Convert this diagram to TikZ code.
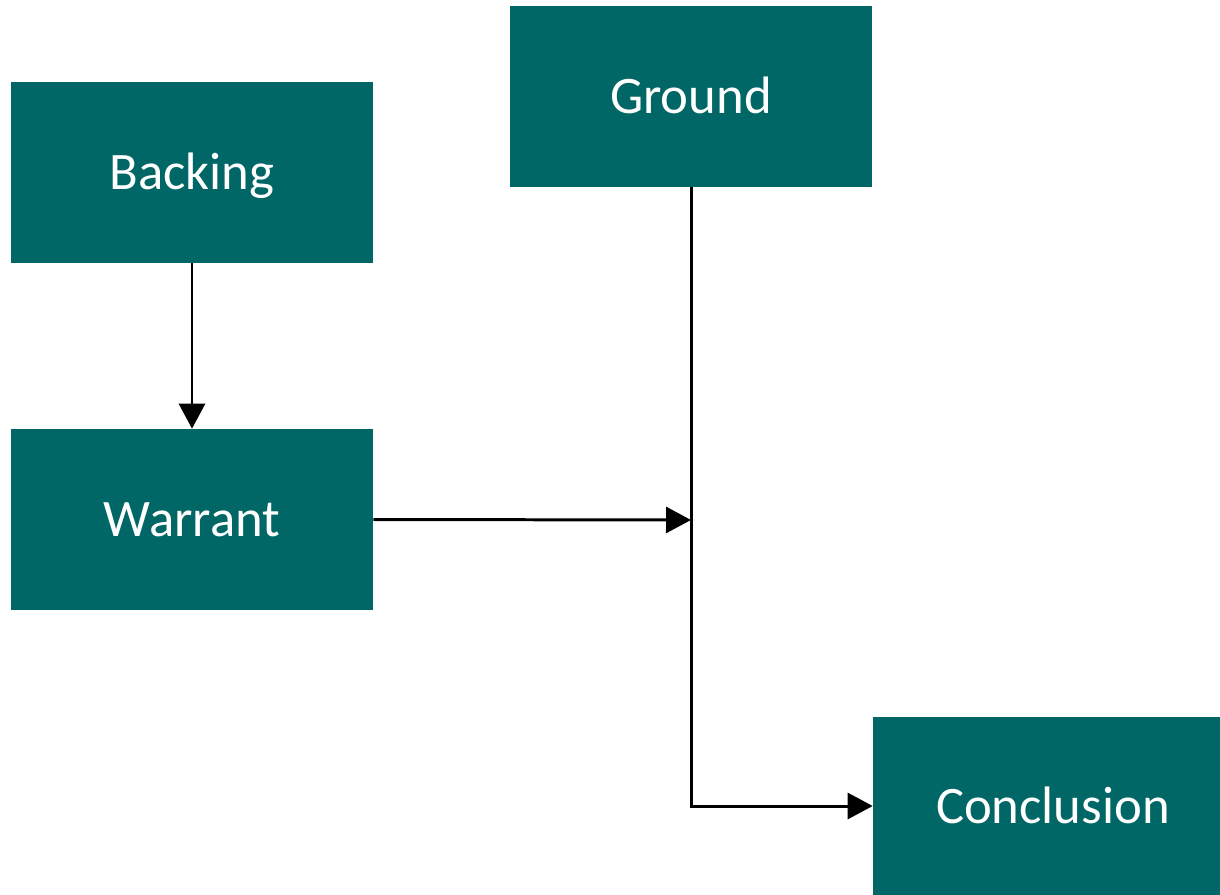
\documentclass[tikz,border=0pt]{standalone}
\usepackage{fontspec}
\setmainfont{Carlito}
\usetikzlibrary{arrows.meta}
\definecolor{sarcelle}{RGB}{0,102,102}
\begin{document}
\begin{tikzpicture}[x=0.02cm,y=-0.02cm]
		\tikzset{boite/.style={fill=sarcelle, text=white, inner sep=0pt, text height=0.75cm, text depth=0.07cm, minimum width=7.24cm, minimum height=3.62cm, font=\fontsize{30}{36}\selectfont}}
		\tikzset{fleche/.style={line width=1.7pt, -{Triangle[length=0.5cm, width=0.52cm]}}}
		\useasboundingbox (0,0) rectangle (1220,895);

		\node[boite] (B) at (192,172.5) {Backing};
		\node[boite] (W) at (192,519.5) {Warrant};
		\node[boite] (G) at (691,96.5) {Ground};
		\node[boite, minimum width=6.94cm, minimum height=3.56cm] (C) at (1046.5,806) {\hspace{0.26cm}Conclusion};

		\coordinate (J) at (691,520);

    \draw[fleche] (B) -- (W);
    \draw[fleche] (W.east) -- (J);
    \draw[fleche] (G.south) |- (C.west);

		\end{tikzpicture}
\end{document}
